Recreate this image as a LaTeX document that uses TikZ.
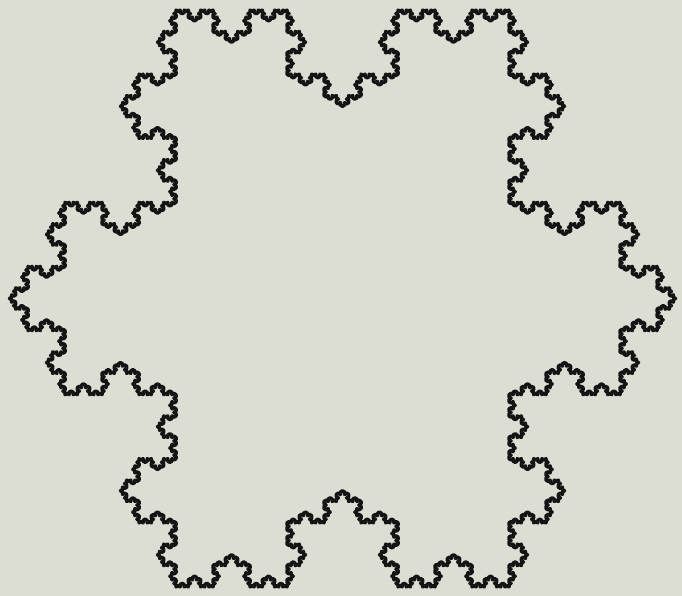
\documentclass[tikz,border=0pt]{standalone}
\usetikzlibrary{lindenmayersystems}
\definecolor{paper}{RGB}{220,221,211}
\pgfdeclarelindenmayersystem{koch flake}{\rule{F -> F-F++F-F}}
\begin{document}
\begin{tikzpicture}[x=1pt,y=1pt]
    % Hintergrund
    \useasboundingbox[fill=paper] (0,0) rectangle (682,596);
    
    % Schneeflocke, Ordnung 5
    \draw[line width=3.5pt, line join=round, black!92, shift={(509,9.1)}, rotate=90,
        l-system={koch flake, axiom=F++F++F, order=5, step=2.3735pt, angle=60}]
        (0,0) lindenmayer system -- cycle;
\end{tikzpicture}
\end{document}
